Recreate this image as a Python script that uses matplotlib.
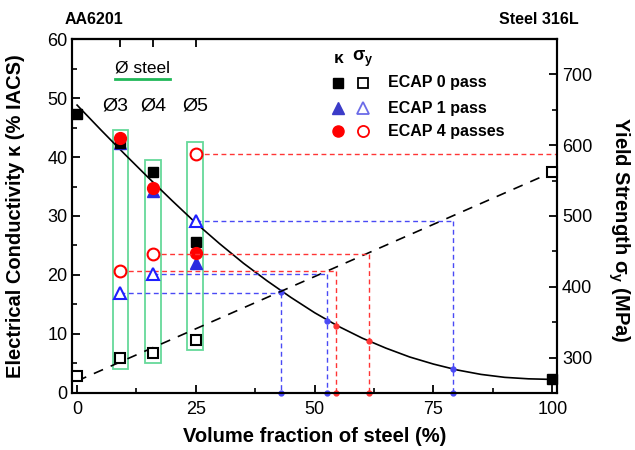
import matplotlib
matplotlib.use("Agg")
import matplotlib.pyplot as plt
import numpy as np

plt.rcParams['font.family'] = ['Liberation Sans', 'DejaVu Sans']
plt.rcParams['mathtext.fontset'] = 'custom'
plt.rcParams['mathtext.rm'] = 'Liberation Sans:bold'
plt.rcParams['mathtext.it'] = 'Liberation Sans:bold'
plt.rcParams['mathtext.bf'] = 'Liberation Sans:bold'

# ---------------- data ----------------
x_groups = [9, 16, 25]
x_end = [0, 100]

# conductivity (filled, left axis)
k_ecap0_x = [0, 9, 16, 25, 100]
k_ecap0 = [47.3, 42.4, 37.5, 25.6, 2.3]
k_ecap1 = [42.3, 34.3, 22.1]
k_ecap4 = [43.3, 34.7, 23.8]

# yield strength (open, right axis)
s_ecap0_x = [0, 9, 16, 25, 100]
s_ecap0 = [274, 300, 307, 325, 562]
s_ecap1 = [391, 418, 493]
s_ecap4 = [423, 447, 588]

curve_x = [0, 5, 10, 15, 20, 25, 30, 35, 40, 45, 50, 55, 60, 65, 70, 75, 80, 85, 90, 95, 100]
curve_k = [48.8, 44.6, 40.5, 36.5, 32.6, 28.8, 25.3, 22.0, 19.0, 16.2, 13.6, 11.3, 9.3,
           7.6, 6.1, 4.9, 3.9, 3.15, 2.65, 2.4, 2.3]

# rule-of-mixtures strength line
rom_x = [0, 100]
rom_s = [267, 562]

# projections: (sigma level, intersection x, kappa on curve)
proj1_x = [42.9, 52.6, 79.1]
proj1_k = [17.2, 12.25, 4.07]
proj4_x = [54.4, 61.4]
proj4_k = [11.4, 8.8]

# green boxes around diameter groups: (x0, x1, k0, k1)
box_x0 = [7.6, 14.35, 23.1]
box_x1 = [10.8, 17.65, 26.5]
box_k0 = [4.0, 5.0, 7.3]
box_k1 = [44.6, 39.5, 42.5]
group_labels = ['Ø3', 'Ø4', 'Ø5']
group_label_x = [8.05, 16.0, 24.9]

legend_labels = ['ECAP 0 pass', 'ECAP 1 pass', 'ECAP 4 passes']

# ---------------- styles ----------------
BLUE_F = '#2a2ae0'
BLUE_O = '#1f1fff'
BLUE_D = '#4a4af5'
RED = '#ff0000'
RED_D = '#ff3535'
GREEN_BOX = '#66d99a'
GREEN_LINE = '#20b858'

fig = plt.figure(figsize=(6.35, 4.5), dpi=100)
ax1 = fig.add_axes([0.1139, 0.1267, 0.7633, 0.7866])
ax1.set_xlim(-1, 101)
ax1.set_ylim(0, 60)
ax2 = ax1.twinx()
ax2.set_ylim(250, 750)

for ax in (ax1, ax2):
    for sp in ax.spines.values():
        sp.set_linewidth(1.5)

# boxes
for x0, x1, k0, k1 in zip(box_x0, box_x1, box_k0, box_k1):
    ax1.add_patch(plt.Rectangle((x0, k0), x1 - x0, k1 - k0, fill=False,
                                edgecolor=GREEN_BOX, lw=1.3, zorder=1))

# curve
ax1.plot(curve_x, curve_k, color='black', lw=1.2, zorder=2)

# rule-of-mixtures
ax2.plot(rom_x, rom_s, color='black', lw=1.2, ls=(0, (6, 5)), zorder=2)

dash = (0, (3.5, 2.5))
# projections ECAP 1
for xm, s, xp, kp in zip(x_groups, s_ecap1, proj1_x, proj1_k):
    ax2.plot([xm, xp], [s, s], color=BLUE_D, lw=1.0, ls=dash, zorder=2)
    ax2.plot([xp, xp], [s, 250], color=BLUE_D, lw=1.0, ls=dash, zorder=2)
    ax1.plot([xp], [kp], 'o', color=BLUE_D, ms=3.5, zorder=3)
    ax1.plot([xp], [0], 'o', color=BLUE_D, ms=3.5, zorder=5, clip_on=False)
# projections ECAP 4
for xm, s, xp, kp in zip(x_groups[:2], s_ecap4[:2], proj4_x, proj4_k):
    ax2.plot([xm, xp], [s, s], color=RED_D, lw=1.0, ls=dash, zorder=2)
    ax2.plot([xp, xp], [s, 250], color=RED_D, lw=1.0, ls=dash, zorder=2)
    ax1.plot([xp], [kp], 'o', color=RED_D, ms=3.5, zorder=3)
    ax1.plot([xp], [0], 'o', color=RED_D, ms=3.5, zorder=5, clip_on=False)
ax2.plot([x_groups[2], 101], [s_ecap4[2], s_ecap4[2]], color=RED_D, lw=1.0, ls=dash, zorder=2)

# filled markers (conductivity)
ax1.plot(x_groups, k_ecap1, '^', color=BLUE_F, ms=8, ls='none', zorder=4)
ax1.plot(k_ecap0_x, k_ecap0, 's', color='black', ms=7, ls='none', zorder=5, clip_on=False)
ax1.plot(x_groups, k_ecap4, 'o', color=RED, ms=8.5, ls='none', zorder=6)

# open markers (strength)
ax2.plot(s_ecap0_x, s_ecap0, 's', mfc='white', mec='black', mew=1.5, ms=7, ls='none', zorder=5, clip_on=False)
ax2.plot(x_groups, s_ecap1, '^', mfc='white', mec=BLUE_O, mew=1.5, ms=9, ls='none', zorder=5)
ax2.plot(x_groups, s_ecap4, 'o', mfc='white', mec=RED, mew=1.5, ms=8.5, ls='none', zorder=5)

# ticks
ax1.set_xticks([0, 25, 50, 75, 100])
ax1.set_xticks([12.5, 37.5, 62.5, 87.5], minor=True)
ax1.set_yticks(range(0, 61, 10))
ax1.set_yticks(range(5, 60, 10), minor=True)
ax2.set_yticks([300, 400, 500, 600, 700])
ax2.set_yticks([250, 350, 450, 550, 650, 750], minor=True)
ax1.tick_params(axis='both', which='major', direction='in', length=6, width=1.3, labelsize=13)
ax1.tick_params(axis='both', which='minor', direction='in', length=3.5, width=1.2)
ax1.tick_params(axis='x', pad=6)
ax2.tick_params(axis='y', which='major', direction='in', length=6, width=1.3, labelsize=13)
ax2.tick_params(axis='y', which='minor', direction='in', length=3.5, width=1.2)

top = ax1.secondary_xaxis('top')
top.set_xticks(x_groups)
top.set_xticklabels([])
top.tick_params(direction='in', length=6, width=1.3)
top.spines['top'].set_linewidth(1.5)

# labels
fig.text(16 / 635, 1 - 216 / 450, 'Electrical Conductivity κ (% IACS)', rotation=90,
         ha='center', va='center', fontsize=14.5, fontweight='bold')
fig.text(619 / 635, 1 - 230 / 450, 'Yield Strength $\\sigma_y$ (MPa)', rotation=270,
         ha='center', va='center', fontsize=14.5, fontweight='bold')
fig.text(315 / 635, 1 - 437 / 450, 'Volume fraction of steel (%)',
         ha='center', va='center', fontsize=14.5, fontweight='bold')
fig.text(94 / 635, 1 - 20 / 450, 'AA6201', ha='center', va='center', fontsize=11.5, fontweight='bold')
fig.text(539 / 635, 1 - 20 / 450, 'Steel 316L', ha='center', va='center', fontsize=11.5, fontweight='bold')

# Ø annotations
ax1.text(8.0, 55.1, 'Ø steel', ha='left', va='center', fontsize=12.5)
ax1.plot([8.0, 19.6], [53.3, 53.3], color=GREEN_LINE, lw=2)
for gx, gl in zip(group_label_x, group_labels):
    ax1.text(gx, 48.6, gl, ha='center', va='center', fontsize=14)

# custom legend
lx_f, lx_o, lx_t = 0.549, 0.599, 0.652
ly = [0.877, 0.804, 0.740]
ax1.text(lx_f, 0.945, 'κ', transform=ax1.transAxes, ha='center', va='center',
         fontsize=12.5, fontweight='bold')
ax1.text(lx_o, 0.945, '$\\sigma_y$', transform=ax1.transAxes, ha='center', va='center',
         fontsize=13)
leg_f = [dict(marker='s', color='black', ms=6.5),
         dict(marker='^', color='#3b3bc8', ms=8),
         dict(marker='o', color=RED, ms=8)]
leg_o = [dict(marker='s', mfc='white', mec='black', ms=7),
         dict(marker='^', mfc='white', mec='#6b6be8', ms=8.5),
         dict(marker='o', mfc='white', mec=RED, ms=8)]
for y, lab, f, o in zip(ly, legend_labels, leg_f, leg_o):
    ax1.plot([lx_f], [y], transform=ax1.transAxes, ls='none', **f)
    ax1.plot([lx_o], [y], transform=ax1.transAxes, ls='none', mew=1.3, **o)
    ax1.text(lx_t, y, lab, transform=ax1.transAxes, ha='left', va='center',
             fontsize=11.5, fontweight='bold')

fig.savefig('out.png', dpi=100)
